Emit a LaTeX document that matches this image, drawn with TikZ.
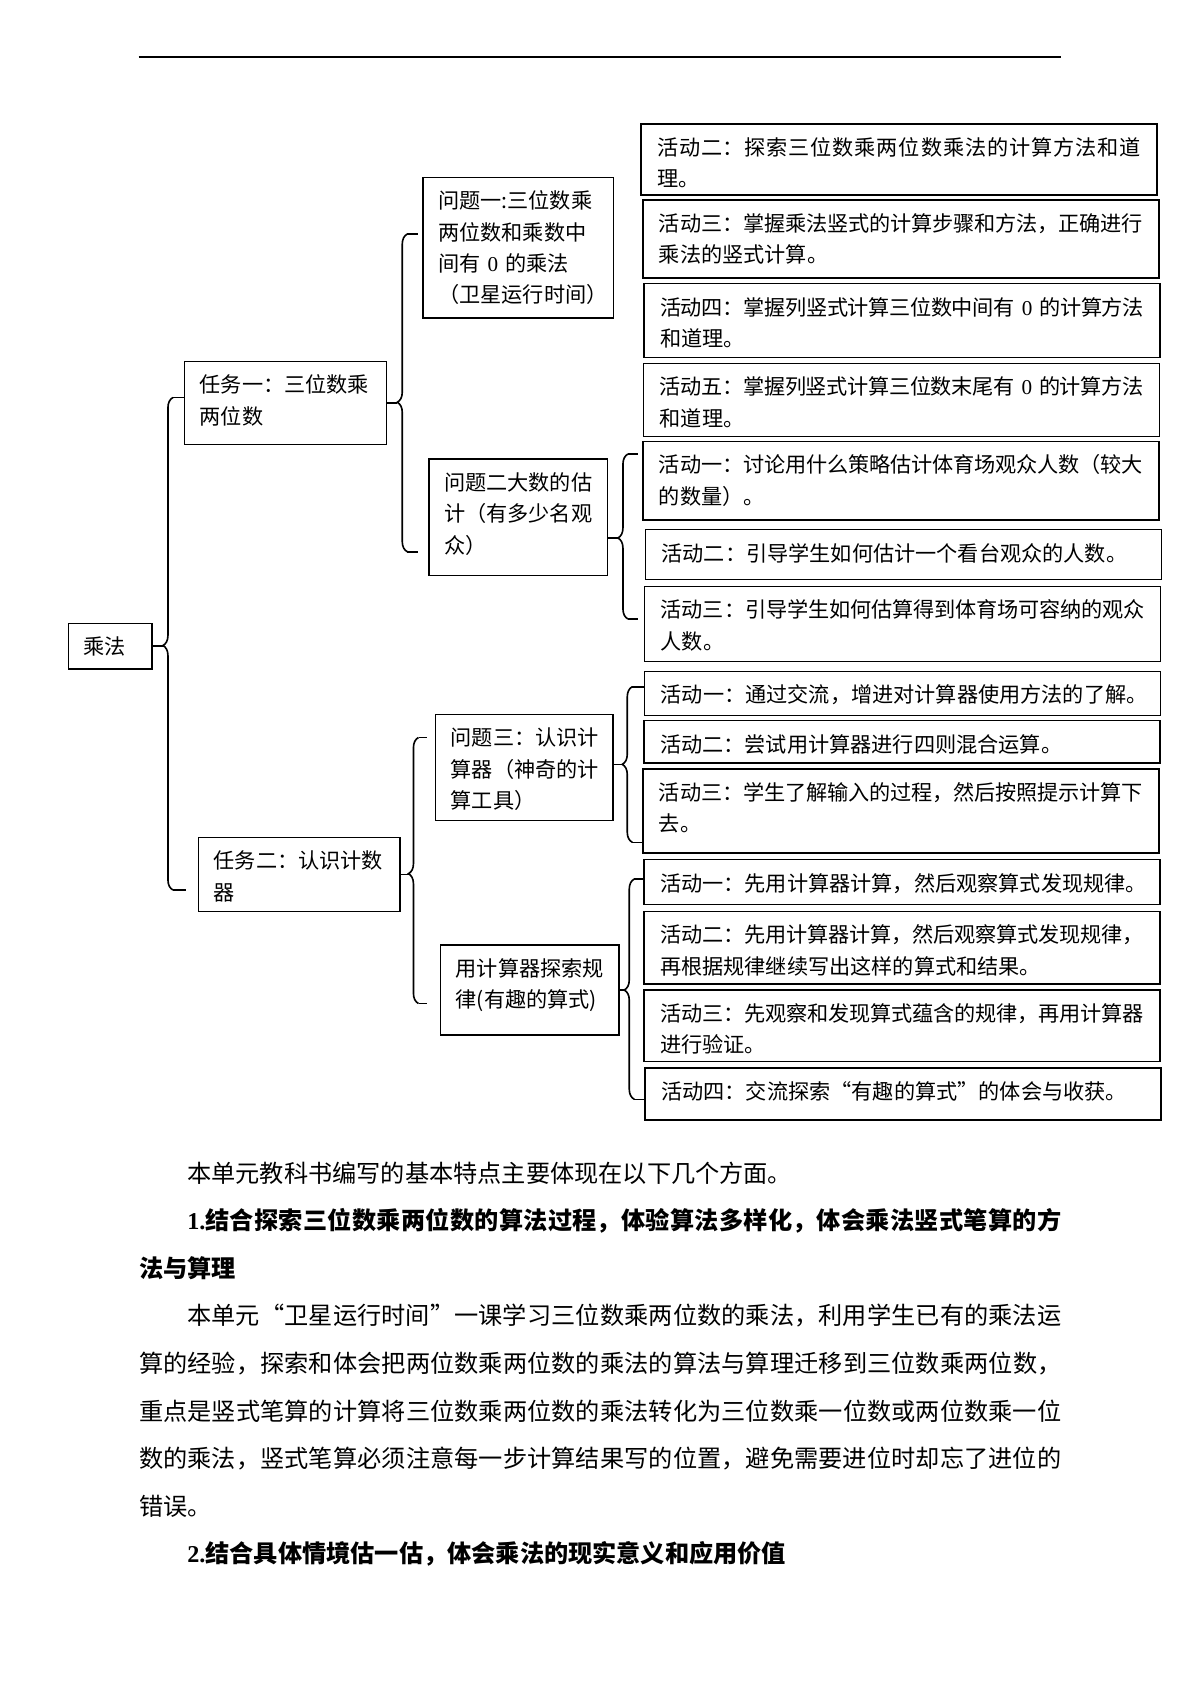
\documentclass[tikz,border=0pt]{standalone}
\usepackage{fontspec}
\setmainfont{Noto Sans CJK SC}
\newfontfamily\lat{Liberation Serif}
\usetikzlibrary{calc,positioning,decorations.pathreplacing}
\XeTeXlinebreaklocale "zh"
\XeTeXlinebreakskip=0pt plus 1pt
\newcommand{\jl}[1]{\leavevmode\vbox{\XeTeXlinebreakskip=0pt plus 4pt minus .6pt\leftskip=0pt\rightskip=0pt\parfillskip=0pt\noindent #1\par}}

\begin{document}
\begin{tikzpicture}[x=0.49607pt,y=-0.49607pt,
  box/.style={draw,line width=.65pt,anchor=north west,inner xsep=7.5pt,inner ysep=0pt,text height=15.6pt,align=left,font=\fontsize{10.5pt}{15.6pt}\selectfont},
  act/.style={box,inner xsep=8pt,text width=240pt},
  brc/.style={decorate,decoration={brace,amplitude=5pt},line width=.8pt},
  stub/.style={line width=.8pt}]
  \useasboundingbox (0,0) rectangle (1200,1696);
  \draw[line width=1pt] (138.6,57) -- (1061,57);

  \node[box,text width=26.4pt,text depth=7.2pt] (m) at (68,622.5) {乘法};
  \node[box,text width=85pt,text depth=25.8pt] (t1) at (184,360.6) {\mbox{任务一：三位数乘}\\两位数};
  \node[box,text width=84.9pt,text depth=21.1pt] (t2) at (198,836.7) {\mbox{任务二：认识计数}\\器};

  \node[box,text width=79.6pt,text depth=54.2pt] (q1) at (422.4,176.5) {\mbox{问题一:三位数乘}\\\mbox{两位数和乘数中}\\\mbox{间有 {\lat 0} 的乘法}\\\mbox{（卫星运行时间）}};
  \node[box,text width=73.5pt,text depth=42.3pt] (q2) at (428.3,458.3) {\mbox{问题二大数的估}\\\mbox{计（有多少名观}\\众）};
  \node[box,text width=73pt,text depth=37.1pt] (q3) at (435,713.5) {\mbox{问题三：认识计}\\\mbox{算器（神奇的计}\\算工具）};
  \node[box,text width=73.5pt,text depth=29pt] (q4) at (440,944.3) {\mbox{用计算器探索规}\\\mbox{律(有趣的算式)}};

  \node[act,text depth=19.6pt] (a1) at (640.3,123.3) {\jl{活动二：探索三位数乘两位数乘法的计算方法和道}\\理。};
  \node[act,text depth=23.1pt] (a2) at (642.2,199.3) {\jl{活动三：掌握乘法竖式的计算步骤和方法，正确进行}\\乘法的竖式计算。};
  \node[act,text depth=21pt] (a3) at (643.3,283) {\jl{活动四：掌握列竖式计算三位数中间有 {\lat 0} 的计算方法}\\和道理。};
  \node[act,text depth=20.8pt] (a4) at (643,362.7) {\jl{活动五：掌握列竖式计算三位数末尾有 {\lat 0} 的计算方法}\\和道理。};

  \node[act,text depth=23.4pt] (b1) at (642.2,440.7) {\jl{活动一：讨论用什么策略估计体育场观众人数（较大}\\的数量）。};
  \node[act,text depth=9.2pt] (b2) at (644.8,529) {\mbox{活动二：引导学生如何估计一个看台观众的人数。}};
  \node[act,text depth=21.8pt] (b3) at (644,585.7) {\jl{活动三：引导学生如何估算得到体育场可容纳的观众}\\人数。};

  \node[act,text depth=6.4pt] (c1) at (644,670.7) {\mbox{活动一：通过交流，增进对计算器使用方法的了解。}};
  \node[act,text depth=5.4pt] (c2) at (643.3,720) {\mbox{活动二：尝试用计算器进行四则混合运算。}};
  \node[act,text depth=26.1pt] (c3) at (642.2,768.3) {\jl{活动三：学生了解输入的过程，然后按照提示计算下}\\去。};

  \node[act,text depth=6.7pt] (d1) at (643.3,859) {\mbox{活动一：先用计算器计算，然后观察算式发现规律。}};
  \node[act,text depth=20.4pt] (d2) at (643.3,910.7) {\jl{活动二：先用计算器计算，然后观察算式发现规律，}\\再根据规律继续写出这样的算式和结果。};
  \node[act,text depth=20pt] (d3) at (643.3,989.3) {\jl{活动三：先观察和发现算式蕴含的规律，再用计算器}\\进行验证。};
  \node[act,text depth=10.2pt] (d4) at (644.4,1067.3) {\mbox{活动四：交流探索“有趣的算式”的体会与收获。}};

  \coordinate (k0t) at (173,397.5);
  \coordinate (k0b) at (173,890);
  \coordinate (k0) at (163,645.5);
  \draw[brc,decoration={aspect=.4964}] (k0b) -- (k0t);
  \draw[stub] (m.east) -- (m.east -| k0);
  \draw[stub] (k0t) -- (k0t -| t1.west);
  \draw[stub,shorten >=6pt] (k0b) -- (k0b -| t2.west);

  \coordinate (k1t) at (407.3,234);
  \coordinate (k1b) at (407.3,551.7);
  \coordinate (k1) at (397.3,402.3);
  \draw[brc,decoration={aspect=.4703}] (k1b) -- (k1t);
  \draw[stub] (t1.east) -- (t1.east -| k1);
  \draw[stub,shorten >=2pt] (k1t) -- (k1t -| q1.west);
  \draw[stub,shorten >=5pt] (k1b) -- (k1b -| q2.west);

  \coordinate (k2t) at (418.5,737.5);
  \coordinate (k2b) at (418.5,1003.5);
  \coordinate (k2) at (408.5,873.7);
  \draw[brc,decoration={aspect=.488}] (k2b) -- (k2t);
  \draw[stub] (t2.east) -- (t2.east -| k2);
  \draw[stub,shorten >=4pt] (k2t) -- (k2t -| q3.west);
  \draw[stub,shorten >=6.5pt] (k2b) -- (k2b -| q4.west);

  \coordinate (k3t) at (628,454);
  \coordinate (k3b) at (628,619);
  \coordinate (k3) at (618,538);
  \draw[brc,decoration={aspect=.491}] (k3b) -- (k3t);
  \draw[stub] (q2.east |- k3) -- (k3);
  \draw[stub,shorten >=2pt] (k3t) -- (k3t -| b1.west);
  \draw[stub,shorten >=3pt] (k3b) -- (k3b -| b3.west);

  \coordinate (k4t) at (632.3,686.7);
  \coordinate (k4b) at (632.3,842.3);
  \coordinate (k4) at (622.3,764.3);
  \draw[brc,decoration={aspect=.501}] (k4b) -- (k4t);
  \draw[stub] (q3.east |- k4) -- (k4);
  \draw[stub] (k4t) -- (k4t -| c1.west);
  \draw[stub] (k4b) -- (k4b -| c3.west);

  \coordinate (k5t) at (634.3,879);
  \coordinate (k5b) at (634.3,1099.3);
  \coordinate (k5) at (624.3,990);
  \draw[brc,decoration={aspect=.496}] (k5b) -- (k5t);
  \draw[stub] (q4.east |- k5) -- (k5);
  \draw[stub] (k5t) -- (k5t -| d1.west);
  \draw[stub] (k5b) -- (k5b -| d4.west);

  \node[anchor=base west,inner sep=0pt,text width=457.6pt,align=left,font=\fontsize{12pt}{23.6pt}\selectfont] (txt) at (138.6,1182.2) {\hspace*{2em}本单元教科书编写的基本特点主要体现在以下几个方面。\\
    \jl{\bfseries\hspace*{2em}{\lat 1.}结合探索三位数乘两位数的算法过程，体验算法多样化，体会乘法竖式笔算的方}\\
    {\bfseries 法与算理}\\
    \jl{\hspace*{2em}本单元“卫星运行时间”一课学习三位数乘两位数的乘法，利用学生已有的乘法运}\\
    \jl{算的经验，探索和体会把两位数乘两位数的乘法的算法与算理迁移到三位数乘两位数，}\\
    \jl{重点是竖式笔算的计算将三位数乘两位数的乘法转化为三位数乘一位数或两位数乘一位}\\
    \jl{数的乘法，竖式笔算必须注意每一步计算结果写的位置，避免需要进位时却忘了进位的}\\
    错误。\\
    {\bfseries\hspace*{2em}{\lat 2.}结合具体情境估一估，体会乘法的现实意义和应用价值}};
\end{tikzpicture}
\end{document}
